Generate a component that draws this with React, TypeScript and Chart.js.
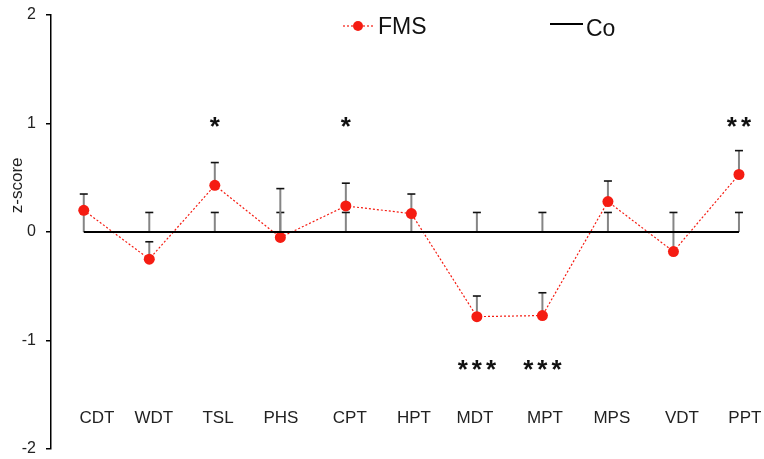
import React, { useEffect, useRef } from 'react';
import { Chart, registerables } from 'chart.js';

Chart.register(...registerables);

const categories = ['CDT', 'WDT', 'TSL', 'PHS', 'CPT', 'HPT', 'MDT', 'MPT', 'MPS', 'VDT', 'PPT'];
const fmsValues = [0.2, -0.25, 0.43, -0.05, 0.24, 0.17, -0.78, -0.77, 0.28, -0.18, 0.53];
const fmsErrorTop = [0.35, -0.09, 0.64, 0.4, 0.45, 0.35, -0.59, -0.56, 0.47, 0.0, 0.75];
const coValues = [0, 0, 0, 0, 0, 0, 0, 0, 0, 0, 0];
const coErrorTop = [0.18, 0.18, 0.18, 0.18, 0.18, 0.18, 0.18, 0.18, 0.18, 0.18, 0.18];
const significance = ['', '', '*', '', '*', '', '***', '***', '', '', '**'];
const starCenter = [0, 0, 1.03, 0, 1.03, 0, -1.21, -1.21, 0, 0, 1.03];
// where each category's label text sits along the x axis (in category units, as typeset in the figure)
const categoryLabelAt = [0.2, 1.07, 2.05, 3.01, 4.06, 5.04, 5.97, 7.04, 8.06, 9.13, 10.09];
const categoryLabelLevel = -1.72;
const yTicks = [-2, -1, 0, 1, 2];
const yTitle = 'z-score';
const legendFms = 'FMS';
const legendCo = 'Co';

const RED = 'rgb(245,28,18)';
const FONT = '"Liberation Sans", Arial, Helvetica, sans-serif';

const overlay = {
  id: 'overlay',
  beforeDatasetsDraw(chart: any) {
    const { ctx, scales } = chart;
    const x = scales.x;
    const y = scales.y;
    ctx.save();
    const drawErr = (i: number, from: number, to: number) => {
      const px = x.getPixelForValue(i);
      const y0 = y.getPixelForValue(from);
      const y1 = y.getPixelForValue(to);
      ctx.strokeStyle = '#858585';
      ctx.lineWidth = 2;
      ctx.beginPath();
      ctx.moveTo(px, y0);
      ctx.lineTo(px, y1);
      ctx.stroke();
      ctx.strokeStyle = '#111';
      ctx.lineWidth = 1.6;
      ctx.beginPath();
      ctx.moveTo(px - 4, y1);
      ctx.lineTo(px + 4, y1);
      ctx.stroke();
    };
    categories.forEach((_, i) => {
      drawErr(i, coValues[i], coErrorTop[i]);
      drawErr(i, fmsValues[i], fmsErrorTop[i]);
    });
    ctx.restore();
  },
  afterDraw(chart: any) {
    const { ctx, scales, chartArea } = chart;
    const x = scales.x;
    const y = scales.y;
    ctx.save();
    // category labels
    ctx.fillStyle = '#222';
    ctx.font = `17px ${FONT}`;
    ctx.textAlign = 'center';
    ctx.textBaseline = 'middle';
    categories.forEach((c, i) => {
      ctx.fillText(c, x.getPixelForValue(categoryLabelAt[i]), y.getPixelForValue(categoryLabelLevel));
    });
    // significance stars
    const starSize = 26;
    ctx.font = `bold ${starSize}px ${FONT}`;
    ctx.fillStyle = '#111';
    ctx.textBaseline = 'alphabetic';
    (ctx as any).letterSpacing = '4px';
    significance.forEach((s, i) => {
      if (!s) return;
      const cy = y.getPixelForValue(starCenter[i]);
      ctx.fillText(s, x.getPixelForValue(i) + 2, cy + starSize * 0.57);
    });
    (ctx as any).letterSpacing = '0px';
    // y title
    ctx.save();
    ctx.translate(17, y.getPixelForValue(0.43));
    ctx.rotate(-Math.PI / 2);
    ctx.font = `17px ${FONT}`;
    ctx.fillStyle = '#222';
    ctx.textAlign = 'center';
    ctx.textBaseline = 'middle';
    ctx.fillText(yTitle, 0, 0);
    ctx.restore();
    // legend
    const ly = chartArea.top + 11;
    ctx.strokeStyle = RED;
    ctx.lineWidth = 1.2;
    ctx.setLineDash([2, 2]);
    ctx.beginPath();
    ctx.moveTo(343, ly);
    ctx.lineTo(375, ly);
    ctx.stroke();
    ctx.setLineDash([]);
    ctx.fillStyle = RED;
    ctx.beginPath();
    ctx.arc(358, ly, 5, 0, Math.PI * 2);
    ctx.fill();
    ctx.fillStyle = '#111';
    ctx.font = `23px ${FONT}`;
    ctx.textAlign = 'left';
    ctx.textBaseline = 'middle';
    ctx.fillText(legendFms, 378, ly + 2);
    ctx.strokeStyle = '#000';
    ctx.lineWidth = 2;
    ctx.beginPath();
    ctx.moveTo(550, ly - 2);
    ctx.lineTo(583, ly - 2);
    ctx.stroke();
    ctx.fillText(legendCo, 586, ly + 4);
    ctx.restore();
  },
};

export default function App() {
  const ref = useRef<HTMLCanvasElement>(null);
  useEffect(() => {
    document.body.style.margin = '0';
    document.body.style.overflow = 'hidden';
    const canvas = ref.current;
    if (!canvas) return;
    const chart = new Chart(canvas, {
      type: 'line',
      data: {
        datasets: [
          {
            label: legendCo,
            data: coValues.map((v, i) => ({ x: i, y: v })),
            borderColor: '#000',
            borderWidth: 2,
            pointRadius: 0,
            fill: false,
          },
          {
            label: legendFms,
            data: fmsValues.map((v, i) => ({ x: i, y: v })),
            borderColor: RED,
            borderWidth: 1.2,
            borderDash: [2, 2],
            pointRadius: 5.5,
            pointBackgroundColor: RED,
            pointBorderWidth: 0,
            fill: false,
          },
        ],
      },
      options: {
        animation: false,
        responsive: true,
        maintainAspectRatio: false,
        layout: { padding: { top: 15, bottom: 10, right: 8, left: 0 } },
        plugins: { legend: { display: false }, tooltip: { enabled: false } },
        scales: {
          x: { type: 'linear', min: -0.5, max: 10.26, display: false },
          y: {
            min: -2,
            max: 2,
            afterFit: (s: any) => {
              s.width = 51;
              s.paddingTop = 0;
              s.paddingBottom = 0;
            },
            afterBuildTicks: (s: any) => {
              s.ticks = yTicks.map((v) => ({ value: v }));
            },
            border: { display: true, color: '#000', width: 1.5 },
            grid: {
              display: true,
              drawOnChartArea: false,
              drawTicks: true,
              tickLength: 5,
              color: '#000',
              lineWidth: 1.5,
            },
            ticks: {
              padding: 10,
              color: '#222',
              font: { size: 16, family: FONT },
            },
          },
        },
      },
      plugins: [overlay],
    });
    return () => chart.destroy();
  }, []);
  return (
    <div style={{ width: 764, height: 459, position: 'relative' }}>
      <canvas ref={ref} />
    </div>
  );
}
